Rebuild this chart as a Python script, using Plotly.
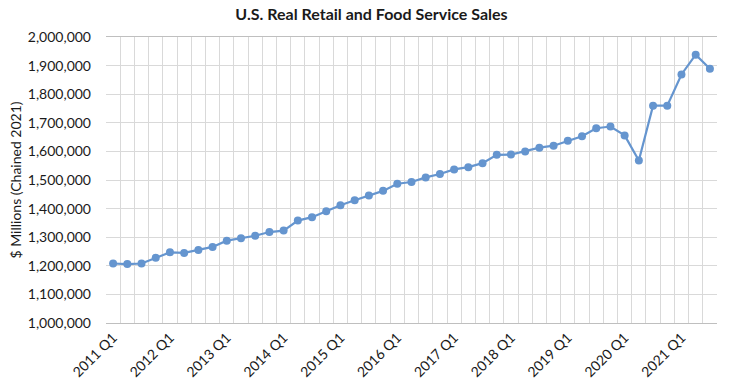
import plotly.graph_objects as go

years = list(range(2011, 2022))
quarters = [f"{y} Q{q}" for y in years for q in range(1, 5)][:43]

sales = [1208000, 1206000, 1208000, 1228000, 1247000, 1245000, 1255000, 1266000,
         1288000, 1296000, 1305000, 1318000, 1323000, 1358000, 1370000, 1391000,
         1412000, 1429000, 1446000, 1462000, 1487000, 1493000, 1509000, 1521000,
         1537000, 1545000, 1559000, 1588000, 1589000, 1600000, 1613000, 1620000,
         1637000, 1653000, 1681000, 1687000, 1656000, 1568000, 1760000, 1760000,
         1869000, 1938000, 1889000]

tick_text = [q if q.endswith("Q1") else "" for q in quarters]

fig = go.Figure()
fig.add_trace(go.Scatter(
    x=quarters, y=sales, mode="lines+markers",
    line=dict(color="#6595cf", width=2.2),
    marker=dict(color="#6595cf", size=8),
    showlegend=False,
))

fig.update_layout(
    width=743, height=386,
    margin=dict(l=106, r=26, t=37, b=63),
    paper_bgcolor="white", plot_bgcolor="white",
    font=dict(family="Lato, Calibri, sans-serif", size=13, color="#1a1a1a"),
    title=dict(text="<b>U.S. Real Retail and Food Service Sales</b>",
               x=0.5, xanchor="center", y=0.962, yanchor="middle",
               font=dict(size=16, color="#1a1a1a")),
)
fig.update_xaxes(
    type="category", tickmode="array", tickvals=quarters, ticktext=tick_text,
    tickson="boundaries", tickangle=-45, showgrid=True, gridcolor="#d9d9d9",
    gridwidth=1, showline=True, linecolor="#bfbfbf", mirror=True,
    ticks="", tickfont=dict(size=14, color="#1a1a1a"),
    range=[-0.5, 42.5], automargin=False,
)
fig.update_yaxes(
    range=[1000000, 2000000], dtick=100000, tickformat=",d",
    showgrid=True, gridcolor="#d9d9d9", gridwidth=1,
    showline=False, zeroline=False, ticks="", ticklabelstandoff=14,
    tickfont=dict(size=14, color="#1a1a1a"), automargin=False,
    title=dict(text="$ Millions (Chained 2021)", font=dict(size=14, color="#1a1a1a"), standoff=2),
)

fig.write_html("out.html", config={"displayModeBar": False},
               post_script="document.body.style.margin='0';document.body.style.overflow='hidden';")
